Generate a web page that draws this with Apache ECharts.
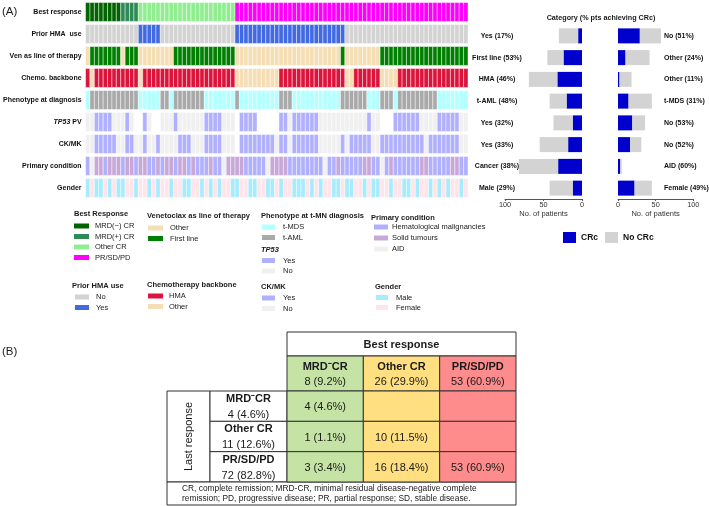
<!DOCTYPE html>
<html><head><meta charset="utf-8">
<script src="https://cdn.jsdelivr.net/npm/echarts@6/dist/echarts.min.js"></script>
<style>html,body{margin:0;padding:0;background:#fff}#c{width:709px;height:506px}</style>
</head><body><div id="c"></div>
<script>
const FONT = '"Liberation Sans", Arial, sans-serif';

// ---------- Oncoprint data (87 patients, one code per patient) ----------
const oncoRows = ['Best response','Prior HMA  use','Ven as line of therapy','Chemo. backbone','Phenotype at diagnosis','TP53 PV','CK/MK','Primary condition','Gender'];
const bestResponseRuns = [['N',8],['P',4],['O',22],['R',53]];
const priorHmaRuns = [['n',12],['y',5],['n',17],['y',25],['n',28]];
const venLineRuns = [['o',1],['f',7],['o',1],['f',3],['o',8],['f',14],['o',24],['f',1],['o',8],['f',20]];
const chemoRuns = [['h',1],['o',1],['h',10],['o',1],['h',21],['o',10],['h',15],['o',2],['h',6],['o',4],['h',16]];
const phenotypeRuns = [['m',1],['a',11],['m',5],['a',2],['m',1],['a',7],['m',7],['a',1],['m',9],['a',3],['m',11],['a',6],['m',3],['a',3],['m',1],['a',9],['m',7]];
const tp53Runs = [['n',2],['y',4],['n',3],['y',1],['n',1],['-',2],['y',1],['n',1],['-',2],['n',3],['y',1],['n',6],['y',4],['n',3],['-',1],['y',4],['-',5],['y',2],['n',1],['y',6],['n',11],['y',1],['n',2],['-',3],['y',6],['n',4],['y',5],['n',2]];
const ckmkRuns = [['n',2],['y',5],['n',2],['y',2],['n',2],['y',1],['n',2],['y',1],['n',4],['y',3],['n',3],['y',4],['n',3],['-',1],['y',8],['n',1],['y',2],['n',1],['y',6],['n',5],['y',1],['n',1],['y',5],['n',2],['y',10],['n',1],['y',7],['n',2]];
const primaryCodes = ['hasshssshs','shsshhshss','hsshshhhsh','hasssshhhh','hasssshhhh','hhhhahhshh','hhhsshhahs','hhhhhhsshh','hhhsshh'];
const genderCodes = ['mfmmfmfmmf','fmffmfmffm','ffmmffmfmf','mffmmffmmf','fmmfmffmmm','fmfmffmmfm','mffmfmmffm','ffmmfmffmf','mfmffmf'];

// ---------- Bar charts (No. of patients) ----------
const leftLabels = ['Yes (17%)','First line (53%)','HMA (46%)','t-AML (48%)','Yes (32%)','Yes (33%)','Cancer (38%)','Male (29%)'];
const leftCRc = [5,24,32,20,12,18,31,12];
const leftNoCRc = [25,21,37,22,25,37,51,30];
const rightLabels = ['No (51%)','Other (24%)','Other (11%)','t-MDS (31%)','No (53%)','No (52%)','AID (60%)','Female (49%)'];
const rightCRc = [29,10,2,14,19,16,3,22];
const rightNoCRc = [28,32,16,31,17,15,2,23];

// ---------- Table (B) ----------
const tableColHeads = ['MRD\u207BCR','Other CR','PR/SD/PD'];
const tableColCounts = ['8 (9.2%)','26 (29.9%)','53 (60.9%)'];
const tableRowHeads = ['MRD\u207BCR','Other CR','PR/SD/PD'];
const tableRowCounts = ['4 (4.6%)','11 (12.6%)','72 (82.8%)'];
const tableCells = [['4 (4.6%)','',''],['1 (1.1%)','10 (11.5%)',''],['3 (3.4%)','16 (18.4%)','53 (60.9%)']];
const footnoteLines = ['CR, complete remission; MRD-CR, minimal residual disease-negative complete','remission; PD, progressive disease; PR, partial response; SD, stable disease.'];

// ---------- Styles ----------
const palettes = [
  {N:'#006400',P:'#2e8b57',O:'#90ee90',R:'#ff00ff'},
  {n:'#d3d3d3',y:'#4169e1'},
  {o:'#f5deb3',f:'#008000'},
  {h:'#dc143c',o:'#f5deb3'},
  {m:'#b4ffff',a:'#a9a9a9'},
  {y:'#b0b0ff',n:'#f0f0f0'},
  {y:'#b0b0ff',n:'#f0f0f0'},
  {h:'#b0b0ff',s:'#c8a8d8',a:'#f0f0f0'},
  {m:'#a6ecff',f:'#ffe4ea'}
];
const tableColColors = ['#c4e3a4','#ffdf80','#ff8c8c'];

function expand(runs){const o=[];runs.forEach(([c,n])=>{for(let i=0;i<n;i++)o.push(c);});return o;}
const rowCodes = [
  expand(bestResponseRuns), expand(priorHmaRuns), expand(venLineRuns), expand(chemoRuns),
  expand(phenotypeRuns), expand(tp53Runs), expand(ckmkRuns),
  primaryCodes.join('').split(''), genderCodes.join('').split('')
];
const oncoData = [], oncoColors = [];
rowCodes.forEach((arr, r) => arr.forEach((code, c) => {
  const col = palettes[r][code];
  if (!col) return;
  oncoData.push([c, r]); oncoColors.push(col);
}));

// ---------- Legend blocks ----------
const legendBlocks = [
  {title:'Best Response', tx:74, ty:214, sx:74, sw:15, lx:95, d0:12, d:10.5,
   items:[['MRD(\u2212) CR',palettes[0].N],['MRD(+) CR',palettes[0].P],['Other CR',palettes[0].O],['PR/SD/PD',palettes[0].R]]},
  {title:'Venetoclax as line of therapy', tx:147, ty:216, sx:148, sw:15, lx:170, d0:12, d:10.5,
   items:[['Other',palettes[2].o],['First line',palettes[2].f]]},
  {title:'Phenotype at t-MN diagnosis', tx:261, ty:216, sx:262, sw:13, lx:283, d0:11, d:10.5,
   items:[['t-MDS',palettes[4].m],['t-AML',palettes[4].a]]},
  {title:'TP53', italic:true, tx:261, ty:250, sx:262, sw:13, lx:283, d0:10.5, d:10.5,
   items:[['Yes',palettes[5].y],['No',palettes[5].n]]},
  {title:'CK/MK', tx:261, ty:287, sx:262, sw:13, lx:283, d0:11, d:10.5,
   items:[['Yes',palettes[6].y],['No',palettes[6].n]]},
  {title:'Prior HMA use', tx:72, ty:286, sx:75, sw:14, lx:96, d0:11, d:10.5,
   items:[['No',palettes[1].n],['Yes',palettes[1].y]]},
  {title:'Chemotherapy backbone', tx:147, ty:285, sx:148, sw:15, lx:169, d0:11, d:10.5,
   items:[['HMA',palettes[3].h],['Other',palettes[3].o]]},
  {title:'Primary condition', tx:371, ty:218, sx:374, sw:14, lx:392, d0:9, d:11,
   items:[['Hematological malignancies',palettes[7].h],['Solid tumours',palettes[7].s],['AID',palettes[7].a]]},
  {title:'Gender', tx:375, ty:287, sx:376, sw:12, lx:396, d0:10.5, d:10,
   items:[['Male',palettes[8].m],['Female',palettes[8].f]]}
];

const graphics = [];
function txt(x, y, text, o){ o = o || {};
  graphics.push({type:'text', x, y, rotation:o.rot||0, z:10, style:{text, fill:o.fill||'#1a1a1a', fontFamily:FONT,
    fontSize:o.size||7.5, fontWeight:o.bold?'bold':'normal', fontStyle:o.italic?'italic':'normal',
    align:o.align||'left', verticalAlign:'middle'}});
}
function box(x, y, w, h, fill){
  graphics.push({type:'rect', z:5, shape:{x, y, width:w, height:h}, style:{fill:fill||'#fff', stroke:'#333', lineWidth:1}});
}
txt(2, 12, '(A)', {size:11.5});
txt(2, 352, '(B)', {size:11.5});
txt(601, 18, 'Category (% pts achieving CRc)', {size:7.2, bold:true, align:'center'});
legendBlocks.forEach(b => {
  txt(b.tx, b.ty, b.title, {size:7.5, bold:true, italic:!!b.italic});
  b.items.forEach((it, i) => {
    const y = b.ty + b.d0 + i*b.d;
    graphics.push({type:'rect', shape:{x:b.sx, y:y-2.5, width:b.sw, height:5}, style:{fill:it[1]}});
    txt(b.lx, y, it[0], {size:7.5});
  });
});

// table boxes
const TX0 = 167, TXL = 210, TXB = 287, TX1 = 516, TYT = 332, TYH = 356, TYB = 391, TYF = 482, TYE = 505;
const colW = (TX1 - TXB)/3, rowH = (TYF - TYB)/3;
box(TXB, TYT, TX1-TXB, TYH-TYT);
txt((TXB+TX1)/2, (TYT+TYH)/2+1, 'Best response', {size:11, bold:true, align:'center'});
tableColHeads.forEach((h, i) => {
  box(TXB + i*colW, TYH, colW, TYB-TYH, tableColColors[i]);
  txt(TXB + (i+0.5)*colW, TYH+11, h, {size:11, bold:true, align:'center'});
  txt(TXB + (i+0.5)*colW, TYH+26, tableColCounts[i], {size:11, align:'center'});
});
box(TX0, TYB, TXL-TX0, TYF-TYB);
txt((TX0+TXL)/2, (TYB+TYF)/2, 'Last response', {size:11, align:'center', rot:Math.PI/2});
tableRowHeads.forEach((h, i) => {
  box(TXL, TYB + i*rowH, TXB-TXL, rowH);
  txt((TXL+TXB)/2, TYB + i*rowH + 8, h, {size:11, bold:true, align:'center'});
  txt((TXL+TXB)/2, TYB + i*rowH + 24, tableRowCounts[i], {size:11, align:'center'});
});
box(TX0, TYF, TX1-TX0, TYE-TYF);
footnoteLines.forEach((l, i) => txt(182, TYF + 6.5 + i*10, l, {size:8.4}));

const tableData = [];
tableCells.forEach((row, r) => row.forEach((v, c) => tableData.push([c, r])));

const chart = echarts.init(document.getElementById('c'), null, {renderer:'canvas'});
const axisLabelBold = {fontFamily:FONT, fontSize:7, fontWeight:'bold', color:'#111'};
chart.setOption({
  animation:false,
  backgroundColor:'#fff',
  textStyle:{fontFamily:FONT},
  grid:[
    {left:83, width:385, top:1, height:198},
    {left:505, width:77, top:25, height:174},
    {left:618, width:78, top:25, height:174},
    {left:TXB, width:TX1-TXB, top:TYB, height:TYF-TYB}
  ],
  xAxis:[
    {type:'category', gridIndex:0, data:rowCodes[0].map((_, i) => i+1), show:false},
    {type:'value', gridIndex:1, inverse:true, min:0, max:100, interval:50,
     axisLine:{show:true, lineStyle:{color:'#555'}}, axisTick:{show:true, length:2, lineStyle:{color:'#555'}},
     splitLine:{show:false}, axisLabel:{fontFamily:FONT, fontSize:7.3, color:'#333', margin:2},
     name:'No. of patients', nameLocation:'middle', nameGap:11, nameTextStyle:{fontFamily:FONT, fontSize:7.5, color:'#333'}},
    {type:'value', gridIndex:2, min:0, max:100, interval:50,
     axisLine:{show:true, lineStyle:{color:'#555'}}, axisTick:{show:true, length:2, lineStyle:{color:'#555'}},
     splitLine:{show:false}, axisLabel:{fontFamily:FONT, fontSize:7.3, color:'#333', margin:2},
     name:'No. of patients', nameLocation:'middle', nameGap:11, nameTextStyle:{fontFamily:FONT, fontSize:7.5, color:'#333'}},
    {type:'category', gridIndex:3, data:tableColHeads, show:false}
  ],
  yAxis:[
    {type:'category', gridIndex:0, data:oncoRows, inverse:true,
     axisLine:{show:false}, axisTick:{show:false},
     axisLabel:Object.assign({}, axisLabelBold, {margin:4,
       formatter: v => v === 'TP53 PV' ? '{i|TP53} PV' : v,
       rich:{i:{fontFamily:FONT, fontSize:7, fontWeight:'bold', fontStyle:'italic', color:'#111'}}})},
    {type:'category', gridIndex:1, data:leftLabels, inverse:true, z:5,
     axisLine:{show:false, onZero:false}, axisTick:{show:false}, position:'left',
     axisLabel:Object.assign({}, axisLabelBold, {align:'center', margin:8})},
    {type:'category', gridIndex:2, data:rightLabels, inverse:true,
     axisLine:{show:false, onZero:false}, axisTick:{show:false}, position:'left',
     axisLabel:Object.assign({}, axisLabelBold, {inside:true, align:'left', margin:46})},
    {type:'category', gridIndex:3, data:tableRowHeads, inverse:true, show:false}
  ],
  legend:{data:['CRc','No CRc'], left:563, top:232, padding:0, itemWidth:13, itemHeight:11, itemGap:7, icon:'rect',
    textStyle:{fontFamily:FONT, fontSize:8.5, fontWeight:'bold', color:'#111'}, selectedMode:false},
  graphic:graphics,
  series:[
    {type:'custom', xAxisIndex:0, yAxisIndex:0, data:oncoData, encode:{x:0, y:1},
     renderItem:(params, api) => {
       const p = api.coord([api.value(0), api.value(1)]);
       const w = api.size([1, 0])[0], h = api.size([0, 1])[1];
       return {type:'rect', shape:{x:p[0]-w/2, y:p[1]-h*0.43, width:w, height:h*0.86},
         style:{fill:oncoColors[params.dataIndex], stroke:'rgba(255,255,255,0.55)', lineWidth:0.8}};
     }},
    {name:'CRc', type:'bar', xAxisIndex:1, yAxisIndex:1, stack:'L', data:leftCRc, barWidth:15, itemStyle:{color:'#0000cd'}},
    {name:'No CRc', type:'bar', xAxisIndex:1, yAxisIndex:1, stack:'L', data:leftNoCRc, barWidth:15, itemStyle:{color:'#d3d3d3'}},
    {name:'CRc', type:'bar', xAxisIndex:2, yAxisIndex:2, stack:'R', data:rightCRc, barWidth:15, itemStyle:{color:'#0000cd'}},
    {name:'No CRc', type:'bar', xAxisIndex:2, yAxisIndex:2, stack:'R', data:rightNoCRc, barWidth:15, itemStyle:{color:'#d3d3d3'}},
    {type:'custom', xAxisIndex:3, yAxisIndex:3, data:tableData, encode:{x:0, y:1}, z:6,
     renderItem:(params, api) => {
       const c = api.value(0), r = api.value(1);
       const p = api.coord([c, r]);
       const w = api.size([1, 0])[0], h = api.size([0, 1])[1];
       return {type:'group', children:[
         {type:'rect', shape:{x:p[0]-w/2, y:p[1]-h/2, width:w, height:h}, style:{fill:tableColColors[c], stroke:'#333', lineWidth:1}},
         {type:'text', style:{text:tableCells[r][c], x:p[0], y:p[1]+1, align:'center', verticalAlign:'middle',
           fontFamily:FONT, fontSize:11, fill:'#1a1a1a'}}
       ]};
     }}
  ]
});
</script>
</body></html>
